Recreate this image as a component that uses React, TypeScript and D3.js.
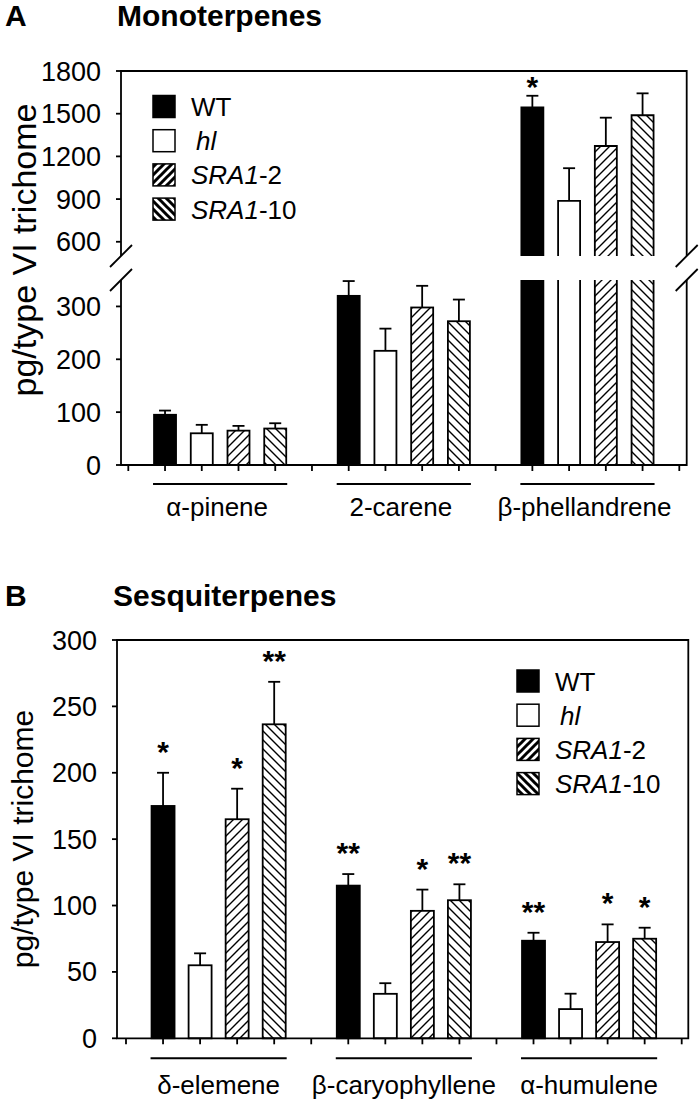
import React from 'react';
import * as d3 from 'd3';

const FONT = '"Liberation Sans", Arial, Helvetica, sans-serif';

// series (genotypes)
const seriesNames = ['WT', 'hl', 'SRA1-2', 'SRA1-10'];
const seriesFills = ['#000', '#fff', 'url(#hatchUp)', 'url(#hatchDown)'];
const legendFills = ['#000', '#fff', 'url(#legUp)', 'url(#legDown)'];

// A: monoterpenes
const monoGroups = ['α-pinene', '2-carene', 'β-phellandrene'];
const monoWT = [95, 320, 1545];
const monoHl = [60, 216, 887];
const monoSra2 = [65, 298, 1273];
const monoSra10 = [69, 272, 1489];
const monoErrWT = [8, 28, 81];
const monoErrHl = [16, 42, 230];
const monoErrSra2 = [9, 41, 199];
const monoErrSra10 = [10, 41, 154];
const monoSigWT = ['', '', '*'];
const monoSigHl = ['', '', ''];
const monoSigSra2 = ['', '', ''];
const monoSigSra10 = ['', '', ''];
const monoTicksLow = [0, 100, 200, 300];
const monoTicksHigh = [600, 900, 1200, 1500, 1800];

// B: sesquiterpenes
const sesqGroups = ['δ-elemene', 'β-caryophyllene', 'α-humulene'];
const sesqWT = [175, 115, 73.5];
const sesqHl = [55, 33.5, 22];
const sesqSra2 = [165, 96, 72.5];
const sesqSra10 = [236.5, 104, 75];
const sesqErrWT = [25, 8.7, 6];
const sesqErrHl = [9, 8, 11.6];
const sesqErrSra2 = [23, 16, 13.3];
const sesqErrSra10 = [32, 12, 8.3];
const sesqSigWT = ['*', '**', '**'];
const sesqSigHl = ['', '', ''];
const sesqSigSra2 = ['*', '*', '*'];
const sesqSigSra10 = ['**', '**', '*'];
const sesqTicks = [0, 50, 100, 150, 200, 250, 300];

const monoMeans = [monoWT, monoHl, monoSra2, monoSra10];
const monoErrs = [monoErrWT, monoErrHl, monoErrSra2, monoErrSra10];
const monoSigs = [monoSigWT, monoSigHl, monoSigSra2, monoSigSra10];
const sesqMeans = [sesqWT, sesqHl, sesqSra2, sesqSra10];
const sesqErrs = [sesqErrWT, sesqErrHl, sesqErrSra2, sesqErrSra10];
const sesqSigs = [sesqSigWT, sesqSigHl, sesqSigSra2, sesqSigSra10];

// one empty slot before each group and one at the end
function makeSlots(nGroups: number) {
  const slots: string[] = [];
  for (let g = 0; g < nGroups; g++) {
    slots.push('gap' + g);
    seriesNames.forEach((_, s) => slots.push(g + '-' + s));
  }
  slots.push('gap' + nGroups);
  return slots;
}

const SW = 1.8;

function ErrBar({ cx, y0, y1 }: { cx: number; y0: number; y1: number }) {
  return (
    <g stroke="#000" strokeWidth={SW}>
      <line x1={cx} x2={cx} y1={y0} y2={y1} />
      <line x1={cx - 6} x2={cx + 6} y1={y1} y2={y1} />
    </g>
  );
}

function Legend({ x, y }: { x: number; y: number }) {
  return (
    <g fontFamily={FONT} fontSize={26}>
      {seriesNames.map((name, i) => {
        const cy = y + i * 34.2;
        return (
          <g key={name}>
            <rect x={x} y={cy - 11} width={22} height={22} fill={legendFills[i]} stroke="#000" strokeWidth={1.5} />
            {i === 0 && <text x={x + 38} y={cy + 9.5}>WT</text>}
            {i === 1 && <text x={x + 43} y={cy + 9.5} fontStyle="italic">hl</text>}
            {i >= 2 && (
              <text x={x + 38} y={cy + 9.5}>
                <tspan fontStyle="italic">SRA1</tspan>
                <tspan>{name.slice(4)}</tspan>
              </text>
            )}
          </g>
        );
      })}
    </g>
  );
}

function slash(x: number, y: number, key: string) {
  return <line key={key} x1={x - 11} y1={y + 11} x2={x + 11} y2={y - 11} stroke="#000" strokeWidth={SW} />;
}

export default function App() {
  const barW = 22;

  // ---------- panel A ----------
  const slotsA = makeSlots(monoGroups.length);
  const xA = d3.scalePoint<string>().domain(slotsA).range([128.3, 679.3]);
  const yLow = d3.scaleLinear().domain([0, 350]).range([465, 280]);
  const yHigh = d3.scaleLinear().domain([500, 1800]).range([256, 71]);
  const axLA = 121, axRA = 686.7;

  const barsA: React.ReactNode[] = [];
  monoGroups.forEach((_, g) => {
    seriesNames.forEach((_, s) => {
      const cx = xA(g + '-' + s)!;
      const v = monoMeans[s][g];
      const e = monoErrs[s][g];
      const sig = monoSigs[s][g];
      const left = cx - barW / 2, right = cx + barW / 2;
      let errTop: number;
      if (v <= 350) {
        barsA.push(
          <rect key={`a${g}${s}`} x={left} y={yLow(v)} width={barW} height={yLow(0) - yLow(v)}
            fill={seriesFills[s]} stroke="#000" strokeWidth={SW} />
        );
        errTop = yLow(v + e);
        barsA.push(<ErrBar key={`ae${g}${s}`} cx={cx} y0={yLow(v)} y1={errTop} />);
      } else {
        const lt = yLow(350), lb = yLow(0);
        const ut = yHigh(v), ub = yHigh(500);
        barsA.push(
          <g key={`a${g}${s}`}>
            <rect x={left} y={lt} width={barW} height={lb - lt} fill={seriesFills[s]} />
            <path d={`M${left},${lt}V${lb}M${right},${lt}V${lb}`} stroke="#000" strokeWidth={SW} />
            <rect x={left} y={ut} width={barW} height={ub - ut} fill={seriesFills[s]} />
            <path d={`M${left},${ub}V${ut}H${right}V${ub}`} fill="none" stroke="#000" strokeWidth={SW} />
          </g>
        );
        errTop = yHigh(v + e);
        barsA.push(<ErrBar key={`ae${g}${s}`} cx={cx} y0={ut} y1={errTop} />);
      }
      if (sig) {
        barsA.push(
          <text key={`as${g}${s}`} x={cx} y={errTop - 16 + 17} textAnchor="middle" fontSize={30} fontWeight="bold" fontFamily={FONT}>{sig}</text>
        );
      }
    });
  });

  // ---------- panel B ----------
  const slotsB = makeSlots(sesqGroups.length);
  const xB = d3.scalePoint<string>().domain(slotsB).range([126, 681.7]);
  const yB = d3.scaleLinear().domain([0, 300]).range([1038.3, 640]);
  const axLB = 117, axRB = 688.3;
  const barWB = 23;

  const barsB: React.ReactNode[] = [];
  sesqGroups.forEach((_, g) => {
    seriesNames.forEach((_, s) => {
      const cx = xB(g + '-' + s)!;
      const v = sesqMeans[s][g];
      const e = sesqErrs[s][g];
      const sig = sesqSigs[s][g];
      const errTop = yB(v + e);
      barsB.push(
        <rect key={`b${g}${s}`} x={cx - barWB / 2} y={yB(v)} width={barWB} height={yB(0) - yB(v)}
          fill={seriesFills[s]} stroke="#000" strokeWidth={SW} />
      );
      barsB.push(<ErrBar key={`be${g}${s}`} cx={cx} y0={yB(v)} y1={errTop} />);
      if (sig) {
        barsB.push(
          <text key={`bs${g}${s}`} x={cx} y={errTop - 28 + 17} textAnchor="middle" fontSize={30} fontWeight="bold" fontFamily={FONT}>{sig}</text>
        );
      }
    });
  });

  const groupLine = (x: d3.ScalePoint<string>, g: number, w: number) => {
    const a = x(g + '-0')! - w / 2 - 1;
    const b = x(g + '-3')! + w / 2 + 1;
    return [a, b];
  };

  return (
    <svg width={700} height={1099} style={{ position: 'absolute', left: 0, top: 0, background: '#fff' }}
      fontFamily={FONT}>
      <defs>
        <pattern id="hatchUp" patternUnits="userSpaceOnUse" width={9} height={9}>
          <rect width={9} height={9} fill="#fff" />
          <path d="M-2,2L2,-2M0,9L9,0M7,11L11,7" stroke="#000" strokeWidth={1.4} />
        </pattern>
        <pattern id="hatchDown" patternUnits="userSpaceOnUse" width={9} height={9}>
          <rect width={9} height={9} fill="#fff" />
          <path d="M-2,7L2,11M0,0L9,9M7,-2L11,2" stroke="#000" strokeWidth={1.4} />
        </pattern>
        <pattern id="legUp" patternUnits="userSpaceOnUse" width={8} height={8}>
          <rect width={8} height={8} fill="#fff" />
          <path d="M-2,2L2,-2M0,8L8,0M6,10L10,6" stroke="#000" strokeWidth={3} />
        </pattern>
        <pattern id="legDown" patternUnits="userSpaceOnUse" width={8} height={8}>
          <rect width={8} height={8} fill="#fff" />
          <path d="M-2,6L2,10M0,0L8,8M6,-2L10,2" stroke="#000" strokeWidth={3} />
        </pattern>
      </defs>

      {/* ===== Panel A ===== */}
      <text x={5} y={26} fontSize={30} fontWeight="bold">A</text>
      <text x={117} y={26} fontSize={30} fontWeight="bold">Monoterpenes</text>
      <text transform={`translate(36,${250}) rotate(-90)`} textAnchor="middle" fontSize={34}>pg/type VI trichome</text>

      {barsA}

      <g stroke="#000" strokeWidth={SW} fill="none">
        <path d={`M${axLA},${yHigh(500)}V${yHigh(1800)}H${axRA}V${yHigh(500)}`} />
        <path d={`M${axLA},${yLow(350)}V${yLow(0)}H${axRA}V${yLow(350)}`} />
        {monoTicksHigh.map(t => <line key={'th' + t} x1={axLA - 5} x2={axLA} y1={yHigh(t)} y2={yHigh(t)} />)}
        {monoTicksLow.map(t => <line key={'tl' + t} x1={axLA - 5} x2={axLA} y1={yLow(t)} y2={yLow(t)} />)}
        {slotsA.map(s => <line key={'tx' + s} x1={xA(s)} x2={xA(s)} y1={yLow(0)} y2={yLow(0) + 6} />)}
        {[axLA, axRA].flatMap((x, i) => [slash(x, yHigh(500), 'sh' + i), slash(x, yLow(350), 'sl' + i)])}
      </g>
      <g fontSize={27} textAnchor="end">
        {monoTicksHigh.map(t => <text key={'lh' + t} x={101} y={yHigh(t) + 9.5}>{t}</text>)}
        {monoTicksLow.map(t => <text key={'ll' + t} x={101} y={yLow(t) + 9.5}>{t}</text>)}
      </g>
      {monoGroups.map((name, g) => {
        const [a, b] = groupLine(xA, g, barW);
        return (
          <g key={name}>
            <line x1={a} x2={b} y1={484} y2={484} stroke="#000" strokeWidth={2} />
            <text x={(a + b) / 2 - 3} y={515.5} fontSize={26} textAnchor="middle">{name}</text>
          </g>
        );
      })}
      <Legend x={153} y={106.5} />

      {/* ===== Panel B ===== */}
      <text x={5} y={606} fontSize={30} fontWeight="bold">B</text>
      <text x={113} y={606} fontSize={30} fontWeight="bold">Sesquiterpenes</text>
      <text transform={`translate(33,${839}) rotate(-90)`} textAnchor="middle" fontSize={30}>pg/type VI trichome</text>

      {barsB}

      <g stroke="#000" strokeWidth={SW} fill="none">
        <path d={`M${axLB},${yB(0)}V${yB(300)}H${axRB}V${yB(0)}Z`} />
        {sesqTicks.map(t => <line key={'tb' + t} x1={axLB - 5} x2={axLB} y1={yB(t)} y2={yB(t)} />)}
        {slotsB.map(s => <line key={'txb' + s} x1={xB(s)} x2={xB(s)} y1={yB(0)} y2={yB(0) + 6} />)}
      </g>
      <g fontSize={27} textAnchor="end">
        {sesqTicks.map(t => <text key={'lb' + t} x={97} y={yB(t) + 9.5}>{t}</text>)}
      </g>
      {sesqGroups.map((name, g) => {
        const [a, b] = groupLine(xB, g, barWB);
        return (
          <g key={name}>
            <line x1={a} x2={b} y1={1058.3} y2={1058.3} stroke="#000" strokeWidth={2} />
            <text x={(a + b) / 2} y={1094} fontSize={26} textAnchor="middle">{name}</text>
          </g>
        );
      })}
      <Legend x={517} y={681} />
    </svg>
  );
}
